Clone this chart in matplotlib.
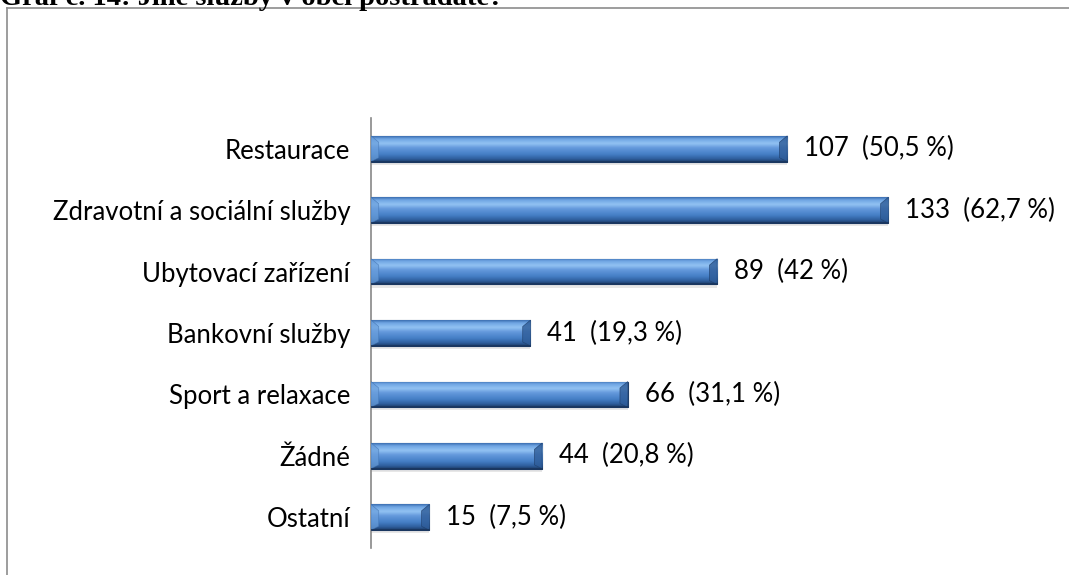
import numpy as np
import matplotlib
matplotlib.use('Agg')
import matplotlib.pyplot as plt
from matplotlib.colors import LinearSegmentedColormap
from matplotlib.patches import Polygon
from matplotlib.lines import Line2D

categories = ['Restaurace', 'Zdravotní a sociální služby', 'Ubytovací zařízení',
              'Bankovní služby', 'Sport a relaxace', 'Žádné', 'Ostatní']
counts = [107, 133, 89, 41, 66, 44, 15]
percents = ['50,5', '62,7', '42', '19,3', '31,1', '20,8', '7,5']
title = 'Graf č. 14: Jiné služby v obci postrádáte?'

W, H = 1069, 575
fig = plt.figure(figsize=(W / 100, H / 100), dpi=100)
plt.rcParams['font.family'] = ['Lato', 'DejaVu Sans']

# axes placed in pixels: y axis at x=371, rows from y=118 to 548
left, right, top, bottom = 371, 1069, 118, 548
ax = fig.add_axes([left / W, 1 - bottom / H, (right - left) / W, (bottom - top) / H])

px_per_unit = 3.89
ax.set_xlim(0, (right - left) / px_per_unit)
ax.set_ylim(len(categories) - 0.5, -0.5)

bar_h = 0.42
cmap = LinearSegmentedColormap.from_list('bevel', [
    (0.0, '#3a6db0'), (0.1, '#6ea4e2'), (0.28, '#93c3f3'), (0.45, '#6499dc'),
    (0.7, '#457fc6'), (0.88, '#2f5f9e'), (1.0, '#1d3c68')])
grad = np.linspace(0, 1, 100).reshape(-1, 1)

y = np.arange(len(categories))
bars = ax.barh(y, counts, height=bar_h, color='#4a80c8', edgecolor='#1f3f6b', linewidth=0.8, zorder=2)
for b in bars:
    x0, y0, w, h = b.get_x(), b.get_y(), b.get_width(), b.get_height()
    im = ax.imshow(grad, cmap=cmap, aspect='auto', extent=[x0, x0 + w, y0 + h, y0],
                   zorder=3, interpolation='bicubic')
    im.set_clip_path(b)
    # bevelled end caps
    d = 2.0
    ins = h * 0.25
    right_cap = Polygon([(x0 + w, y0), (x0 + w - d, y0 + ins), (x0 + w - d, y0 + h - ins * 0.6), (x0 + w, y0 + h)],
                        closed=True, facecolor='#2e5c98', edgecolor='#1f3f6b', linewidth=0.5,
                        alpha=0.8, zorder=4)
    left_cap = Polygon([(x0, y0), (x0 + d, y0 + ins), (x0 + d, y0 + h - ins * 0.6), (x0, y0 + h)],
                       closed=True, facecolor='#6a9fdc', edgecolor='#3a6aa8', linewidth=0.4,
                       alpha=0.7, zorder=4)
    ax.add_patch(right_cap)
    ax.add_patch(left_cap)
    ax.plot([x0, x0 + w], [y0 + h, y0 + h], color='#1a365e', lw=1.2, zorder=5)

# drop shadow under bars
ax.barh(y + 0.05, counts, height=bar_h, color='#bbbbbb', alpha=0.35, zorder=1)

for i, (c, p) in enumerate(zip(counts, percents)):
    ax.text(c + 17 / px_per_unit, i, f'{c}  ({p} %)', va='center', ha='left', fontsize=18.5, color='#000000')

ax.set_yticks(y)
ax.set_yticklabels(categories, fontsize=18.5)
ax.tick_params(axis='y', length=0, pad=15)
ax.set_xticks([])
for side in ('top', 'right', 'bottom'):
    ax.spines[side].set_visible(False)
ax.spines['left'].set_color('#888888')
ax.spines['left'].set_linewidth(1.2)

# outer frame of the chart area (left and top only visible)
fig.add_artist(Line2D([7 / W, 7 / W], [0, 1 - 8 / H], color='#8c8c8c', lw=1.2, transform=fig.transFigure))
fig.add_artist(Line2D([7 / W, 1], [1 - 8 / H, 1 - 8 / H], color='#8c8c8c', lw=1.2, transform=fig.transFigure))

# title cut off at the top edge, as in the source page
fig.text(0, 1 - 5 / H, title, ha='left', va='baseline', fontsize=20.5, fontweight='bold',
         family=['Liberation Serif', 'DejaVu Serif'])

fig.savefig('out.png', dpi=100)
